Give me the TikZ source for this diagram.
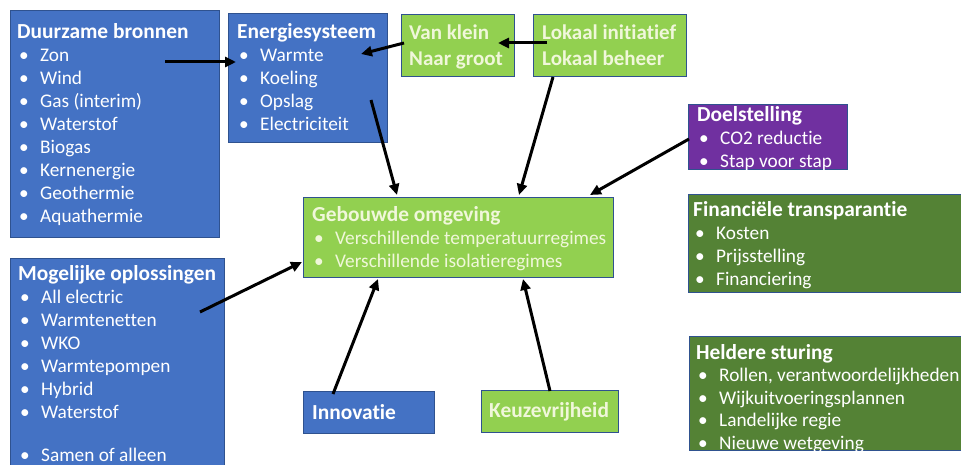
\documentclass[tikz,border=0pt]{standalone}
\usepackage{fontspec}
\setmainfont{Carlito}[Ligatures=NoCommon]
\usetikzlibrary{arrows.meta,calc}

\definecolor{blauw}{HTML}{4472C4}
\definecolor{lichtgroen}{HTML}{92D050}
\definecolor{donkergroen}{HTML}{548235}
\definecolor{paars}{HTML}{7030A0}
\definecolor{rand}{HTML}{2F528F}
\definecolor{creme}{RGB}{240,247,218}

\newcommand{\kop}[1]{{\fontsize{21.4}{23}\selectfont\bfseries #1}}
\newcommand{\bol}[1]{\\\hspace*{2pt}\makebox[21pt][l]{\textbullet}#1}

\tikzset{
  vak/.style={draw=rand, line width=1pt, anchor=north west, inner sep=0pt},
  tekst/.style={anchor=base west, inner sep=0pt, align=flush left, text=white,
    font=\fontsize{19.3}{23}\selectfont},
  pijl/.style={line width=3pt, -{Triangle[length=11pt,width=10pt]}},
}

\begin{document}
\begin{tikzpicture}[x=1pt,y=-1pt]
  \useasboundingbox (0,0) rectangle (961,465);

  % vakken
  \node[vak, fill=blauw, minimum width=209pt, minimum height=227pt] (bronnen) at (10,10) {};
  \node[vak, fill=blauw, minimum width=159pt, minimum height=129pt] (energie) at (228,13) {};
  \node[vak, fill=lichtgroen, minimum width=113pt, minimum height=62pt] (vanklein) at (401,14) {};
  \node[vak, fill=lichtgroen, minimum width=153pt, minimum height=62pt] (lokaal) at (533,14) {};
  \node[vak, fill=paars, minimum width=159pt, minimum height=65pt] (doel) at (688,104) {};
  \node[vak, fill=donkergroen, minimum width=280pt, minimum height=98pt] (financien) at (688,194) {};
  \node[vak, fill=donkergroen, minimum width=280pt, minimum height=114pt] (sturing) at (689,336) {};
  \node[vak, fill=blauw, minimum width=214pt, minimum height=215pt] (oplossingen) at (10,258) {};
  \node[vak, fill=lichtgroen, minimum width=310pt, minimum height=80pt] (gebouw) at (303,197) {};
  \node[vak, fill=blauw, minimum width=131pt, minimum height=42pt] (innovatie) at (303,391) {};
  \node[vak, fill=lichtgroen, minimum width=137pt, minimum height=42pt] (keuze) at (481,390) {};

  % teksten
  \node[tekst, text width=200pt] (bronnen-t) at (17,39)
    {\kop{Duurzame bronnen}\bol{Zon}\bol{Wind}\bol{Gas (interim)}\bol{Waterstof}%
     \bol{Biogas}\bol{Kernenergie}\bol{Geothermie}\bol{Aquathermie}};
  \node[tekst, text width=150pt] (energie-t) at (237,39)
    {\kop{Energiesysteem}\bol{Warmte}\bol{Koeling}\bol{Opslag}\bol{Electriciteit}};
  \node[tekst, text width=110pt, text=creme, font=\fontsize{21}{26}\selectfont\bfseries]
    (vanklein-t) at (409,40) {Van klein\\Naar groot};
  \node[tekst, text width=150pt, text=creme, font=\fontsize{21}{26}\selectfont\bfseries]
    (lokaal-t) at (542,40) {Lokaal initiatief\\Lokaal beheer};
  \node[tekst, text width=150pt] (doel-t) at (697,122)
    {\kop{Doelstelling}\bol{CO2 reductie}\bol{Stap voor stap}};
  \node[tekst, text width=260pt] (financien-t) at (693,217)
    {\kop{Financiële transparantie}\bol{Kosten}\bol{Prijsstelling}\bol{Financiering}};
  \node[tekst, text width=300pt, font=\fontsize{19.3}{22.5}\selectfont] (sturing-t) at (696,359)
    {\kop{Heldere sturing}\bol{Rollen, verantwoordelijkheden}\bol{Wijkuitvoeringsplannen}%
     \bol{Landelijke regie}\bol{Nieuwe wetgeving}};
  \node[tekst, text width=210pt] (oplossingen-t) at (18,280)
    {\kop{Mogelijke oplossingen}\bol{All electric}\bol{Warmtenetten}\bol{WKO}%
     \bol{Warmtepompen}\bol{Hybrid}\bol{Waterstof}\\[-3pt]\mbox{}\bol{Samen of alleen}};
  \node[tekst, text width=300pt, text=creme] (gebouw-t) at (312,222)
    {\kop{Gebouwde omgeving}\bol{Verschillende temperatuurregimes}\bol{Verschillende isolatieregimes}};
  \node[tekst, text width=120pt] (innovatie-t) at (312,419) {\kop{Innovatie}};
  \node[tekst, text width=130pt, text=creme] (keuze-t) at (489,417) {\kop{Keuzevrijheid}};

  % pijlen
  \draw[pijl] ($(bronnen.north west)+(155,52)$) -- ($(energie.north west)+(8,49)$);
  \draw[pijl] ($(vanklein.north west)+(3,29)$) -- ($(energie.north west)+(133,41)$);
  \draw[pijl] ($(lokaal.north west)+(14,29)$) -- ($(vanklein.north west)+(97,29)$);
  \draw[pijl] ($(energie.north west)+(143,87)$) -- ($(gebouw.north west)+(94,-2)$);
  \draw[pijl] ($(lokaal.north west)+(20,63)$) -- ($(gebouw.north west)+(216,-2)$);
  \draw[pijl] ($(doel.north west)+(1,35)$) -- ($(gebouw.north west)+(287,-2)$);
  \draw[pijl] ($(oplossingen.north west)+(190,54)$) -- ($(gebouw.north west)+(-1,65)$);
  \draw[pijl] ($(innovatie.north west)+(30,3)$) -- ($(gebouw.north west)+(75,82)$);
  \draw[pijl] ($(keuze.north west)+(69,1)$) -- ($(gebouw.north west)+(220,82)$);
\end{tikzpicture}
\end{document}
